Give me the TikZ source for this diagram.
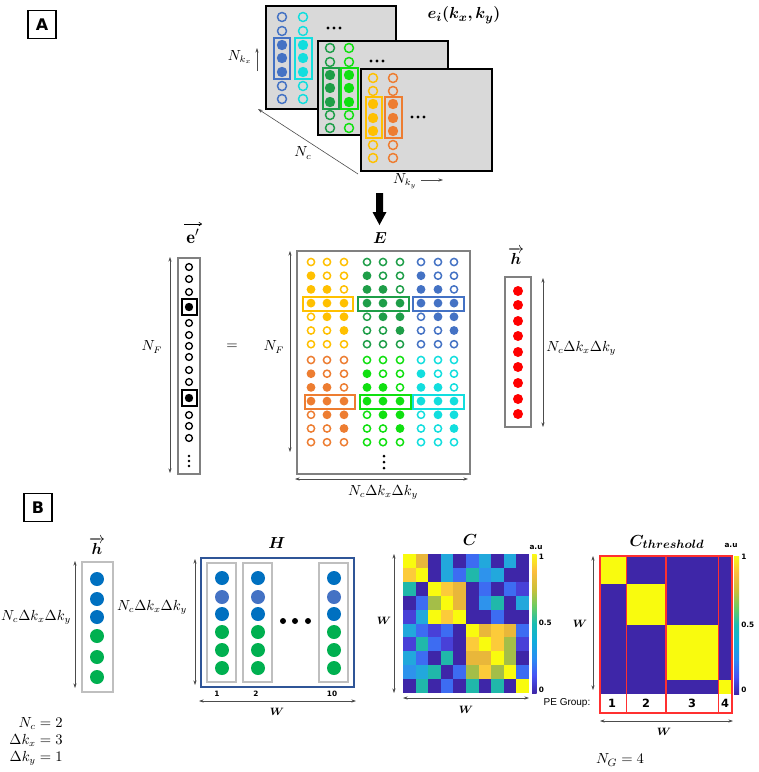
\documentclass[tikz,border=0pt]{standalone}
\usepackage{fontspec}
\usepackage{amsmath,bm}
\usetikzlibrary{arrows.meta}
\newfontfamily\dvs{DejaVu Sans}
\newfontfamily\lib{Liberation Sans}
\definecolor{cardgray}{HTML}{D9D9D9}
\definecolor{blueA}{HTML}{4472C4}
\definecolor{cyanA}{HTML}{12DEDE}
\definecolor{dgreen}{HTML}{1E9E48}
\definecolor{bgreen}{HTML}{10E010}
\definecolor{goldA}{HTML}{FFC000}
\definecolor{orangeA}{HTML}{ED7D31}
\definecolor{redA}{HTML}{FF0000}
\definecolor{Bblue}{HTML}{0070C0}
\definecolor{Blblue}{HTML}{4472C4}
\definecolor{Bgreen}{HTML}{00B050}
\definecolor{Hblue}{HTML}{2F5597}
\definecolor{boxgray}{HTML}{808080}
\definecolor{lboxgray}{HTML}{BFBFBF}
\definecolor{cD}{HTML}{3E26A8}
\definecolor{cM}{HTML}{4840D8}
\definecolor{cB}{HTML}{3D6CF2}
\definecolor{cK}{HTML}{2E93EC}
\definecolor{cL}{HTML}{22A8DC}
\definecolor{cT}{HTML}{20B8AA}
\definecolor{cG}{HTML}{A4BE48}
\definecolor{cO}{HTML}{E9B73A}
\definecolor{cP}{HTML}{FCCB3A}
\definecolor{cY}{HTML}{F9FB0E}
\definecolor{redbox}{HTML}{FF3030}
\pgfdeclareverticalshading{parula}{100bp}{%
 rgb(0bp)=(0.2422,0.1504,0.6603);
 rgb(25bp)=(0.2422,0.1504,0.6603);
 rgb(31.25bp)=(0.2810,0.3228,0.9579);
 rgb(37.5bp)=(0.16,0.55,0.95);
 rgb(43.75bp)=(0.06,0.68,0.86);
 rgb(50bp)=(0.10,0.74,0.70);
 rgb(56.25bp)=(0.42,0.80,0.38);
 rgb(62.5bp)=(0.80,0.75,0.22);
 rgb(68.75bp)=(0.99,0.74,0.24);
 rgb(75bp)=(0.9769,0.9839,0.0805);
 rgb(100bp)=(0.9769,0.9839,0.0805)}
\newcommand\fsz{\fontsize{10.5}{12}\selectfont}
\newcommand\fbig{\fontsize{12.5}{14}\selectfont}
\newcommand\ftiny{\dvs\bfseries\fontsize{5.5}{6}\selectfont}
\newcommand\Eblock[5]{%
 \foreach \mm [count=\rr from 0] in {{0,0,0},{1,0,0},{1,1,0},{1,1,1},{0,1,1},{0,0,1},{0,0,0}}{%
   \foreach \ff [count=\kk] in \mm {%
     \pgfmathsetmacro\xx{\kk==1 ? #2 : (\kk==2 ? #3 : #4)}%
     \pgfmathsetmacro\yy{#5+13.7*\rr}%
     \ifnum\ff=1 \fill[#1] (\xx,\yy) circle[radius=4.4];%
     \else \draw[#1,line width=1.1pt] (\xx,\yy) circle[radius=3.6];\fi
   }}}
\begin{document}
\begin{tikzpicture}[x=0.75pt,y=-0.75pt,
  card/.style={fill=cardgray,draw=black,line width=1.5pt},
  oc/.style={line width=1.1pt},
  grpbox/.style={line width=1.1pt},
  dimarr/.style={{Stealth[length=3.5pt,width=2.4pt]}-{Stealth[length=3.5pt,width=2.4pt]},line width=0.45pt,draw=black!70},
  onearr/.style={-{Stealth[length=3.5pt,width=2.4pt]},line width=0.45pt,draw=black!70},
  vecarr/.style={-{To[length=2.5pt,width=3pt]},line width=0.5pt},
  lbl/.style={font=\fsz,inner sep=0pt},
  ttl/.style={font=\fbig,inner sep=0pt},
  tiny/.style={font=\ftiny,inner sep=0pt},
  panel/.style={draw=black,line width=0.8pt,minimum width=21pt,minimum height=21.5pt,inner sep=0pt,font=\dvs\bfseries\fontsize{12}{12}\selectfont}]
\useasboundingbox (0,0) rectangle (759,772);
\fill[white] (0,0) rectangle (759,772);

% ---------------- Panel A ----------------
\node[panel] (labA) at (42,24.5) {A};

% card 1
\draw[card] (266,6) rectangle (396,109);
\foreach \y in {17,31,86,99}{\draw[oc,blueA] (282,\y) circle[radius=4.5]; \draw[oc,cyanA] (303,\y) circle[radius=4.5];}
\foreach \y in {45,58,72}{\fill[blueA] (282,\y) circle[radius=5.2]; \fill[cyanA] (303,\y) circle[radius=5.2];}
\draw[grpbox,blueA] (274,38) rectangle (290,79);
\draw[grpbox,cyanA] (295,38) rectangle (312,79);
\foreach \d in {-6,0,6}{\fill (334+\d,28) circle[radius=1.6];}
% card 2
\draw[card] (318,41) rectangle (448,135);
\foreach \y in {48,62,115,128}{\draw[oc,dgreen] (330,\y) circle[radius=4.5]; \draw[oc,bgreen] (349,\y) circle[radius=4.5];}
\foreach \y in {75,88,102}{\fill[dgreen] (330,\y) circle[radius=5.2]; \fill[bgreen] (349,\y) circle[radius=5.2];}
\draw[grpbox,dgreen] (323,68) rectangle (339,109);
\draw[grpbox,bgreen] (341,68) rectangle (358,109);
\foreach \d in {-6,0,6}{\fill (377+\d,61) circle[radius=1.6];}
% card 3
\draw[card] (361,69) rectangle (492,171);
\foreach \y in {78,91,145,158}{\draw[oc,goldA] (373,\y) circle[radius=4.5]; \draw[oc,orangeA] (393,\y) circle[radius=4.5];}
\foreach \y in {104,118,131}{\fill[goldA] (373,\y) circle[radius=5.2]; \fill[orangeA] (393,\y) circle[radius=5.2];}
\draw[grpbox,goldA] (366,97) rectangle (382,138);
\draw[grpbox,orangeA] (385,97) rectangle (402,138);
\foreach \d in {-6,0,6}{\fill (418+\d,117) circle[radius=1.6];}

\node[ttl] (eik) at (464,15) {$\bm{e_i(k_x,k_y)}$};
\node[lbl] (nkx) at (240,57) {$N_{k_x}$};
\coordinate (nkxA) at (257,71); \coordinate (nkxB) at (257,48);
\draw[onearr] (nkxA) -- (nkxB);
\coordinate (ncA) at (358,174); \coordinate (ncB) at (258,109);
\draw[onearr] (ncA) -- (ncB);
\node[lbl] (nc) at (303,153) {$N_c$};
\node[lbl] (nky) at (405,181) {$N_{k_y}$};
\coordinate (nkyA) at (421,180); \coordinate (nkyB) at (443,180);
\draw[onearr] (nkyA) -- (nkyB);

% big arrow
\fill[black] (376,193) -- (383,193) -- (383,212) -- (386.5,212) -- (379.5,225) -- (372.5,212) -- (376,212) -- cycle;

% E matrix
\node[ttl] (Elbl) at (380,238) {$\bm{E}$};
\draw[boxgray,line width=1.5pt] (297,251) rectangle (470,474);
\Eblock{goldA}{311}{327}{344}{262}
\Eblock{dgreen}{367}{383}{400}{262}
\Eblock{blueA}{421}{438}{454}{262}
\Eblock{orangeA}{311}{327}{344}{360}
\Eblock{bgreen}{367}{383}{400}{360}
\Eblock{cyanA}{421}{438}{454}{360}
\draw[grpbox,goldA] (303,297) rectangle (353,311);
\draw[grpbox,dgreen] (358,297) rectangle (409,311);
\draw[grpbox,blueA] (413,297) rectangle (464,311);
\draw[grpbox,orangeA] (305,395) rectangle (355,409);
\draw[grpbox,bgreen] (360,395) rectangle (411,409);
\draw[grpbox,cyanA] (413,395) rectangle (464,409);
\foreach \y in {456,462,468}{\fill (384,\y) circle[radius=1.5];}
\coordinate (eLa) at (290,251); \coordinate (eLb) at (290,452);
\draw[dimarr] (eLa) -- (eLb);
\node[lbl] (nfE) at (274,347) {$N_F$};
\coordinate (eBa) at (295,479); \coordinate (eBb) at (468,479);
\draw[dimarr] (eBa) -- (eBb);
\node[lbl] (ncE) at (383,492) {$N_c\Delta k_x\Delta k_y$};

% e' vector
\node[font=\fontsize{14}{16}\selectfont,inner sep=0pt] (eplbl) at (193,236) {$\mathbf{e}'$};
\coordinate (epva) at (184,224); \coordinate (epvb) at (202,224);
\draw[vecarr] (epva) -- (epvb);
\draw[boxgray,line width=1.5pt] (178,258) rectangle (200,474);
\foreach \y in {267,279,292,323,335,346,357,370,382,415,426,438}{\draw[black,line width=1pt] (189,\y) circle[radius=3.4];}
\foreach \y in {307,398}{\fill[black] (189,\y) circle[radius=4.2]; \draw[black,line width=1.1pt] (182,\y-8) rectangle (197,\y+8);}
\foreach \y in {456,461,466}{\fill (189,\y) circle[radius=1.3];}
\coordinate (epa) at (170,257); \coordinate (epb) at (170,473);
\draw[dimarr] (epa) -- (epb);
\node[lbl] (nfe) at (152,347) {$N_F$};
\node[lbl] (eq) at (232,347) {$=$};

% h vector (A)
\node[ttl] (hlblA) at (516,256) {$\overrightarrow{\bm{h}}$};
\draw[boxgray,line width=1.5pt] (505,277) rectangle (531,427);
\foreach \y in {291,305,321,336,352,367,383,399,414}{\fill[redA] (518,\y) circle[radius=5];}
\coordinate (ha) at (543,278); \coordinate (hb) at (543,427);
\draw[dimarr] (ha) -- (hb);
\node[lbl,anchor=west] (ncH) at (546,348) {$N_c\Delta k_x\Delta k_y$};

% ---------------- Panel B ----------------
\node[panel] (labB) at (38,507.5) {B};

% h vector (B)
\node[ttl] (hlblB) at (97,546) {$\overrightarrow{\bm{h}}$};
\draw[lboxgray,line width=1.3pt] (82,562) rectangle (113,692);
\foreach \y in {579,599,617}{\fill[Bblue] (97,\y) circle[radius=7];}
\foreach \y in {636,657,677}{\fill[Bgreen] (97,\y) circle[radius=7];}
\coordinate (hba) at (75,561); \coordinate (hbb) at (75,688);
\draw[dimarr] (hba) -- (hbb);
\node[lbl] (nchB) at (36,617) {$N_c\Delta k_x\Delta k_y$};

% H matrix
\node[font=\fontsize{11.5}{13}\selectfont,inner sep=0pt] (Hlbl) at (277,543) {$\bm{H}$};
\draw[Hblue,line width=0.9pt] (201,558) rectangle (354,687);
\foreach \x in {222,258,334}{
  \draw[lboxgray,line width=1.3pt] (\x-15,563) rectangle (\x+14,682);
  \fill[Bblue] (\x,578) circle[radius=7];
  \fill[Blblue] (\x,597) circle[radius=7];
  \fill[Bblue] (\x,614) circle[radius=7];
  \foreach \y in {632,650,668}{\fill[Bgreen] (\x,\y) circle[radius=7];}
}
\foreach \x in {283,295,308}{\fill (\x,621) circle[radius=3];}
\node[tiny] (n1) at (217,694) {1};
\node[tiny] (n2) at (256,694) {2};
\node[tiny] (n10) at (332,694) {10};
\coordinate (Hla) at (195,559); \coordinate (Hlb) at (195,685);
\draw[dimarr] (Hla) -- (Hlb);
\node[lbl] (nchH) at (152,607) {$N_c\Delta k_x\Delta k_y$};
\coordinate (Hba) at (199,701); \coordinate (Hbb) at (356,701);
\draw[dimarr] (Hba) -- (Hbb);
\node[font=\fontsize{8}{9}\selectfont,inner sep=0pt] (WH) at (277,712) {$\bm{W}$};

% C heatmap
\node[ttl] (Clbl) at (470,540) {$\bm{C}$};
\foreach \row [count=\i from 0] in {
 {Y,O,D,L,D,B,L,D,L,D},
 {P,Y,D,L,B,T,K,L,D,D},
 {T,D,Y,P,O,D,B,D,B,M},
 {D,B,G,Y,O,D,K,T,D,L},
 {M,L,Y,P,Y,D,D,B,D,D},
 {L,B,M,B,D,Y,O,P,O,B},
 {M,T,B,M,D,P,Y,P,G,M},
 {L,B,D,T,D,O,O,Y,G,D},
 {K,L,T,D,B,G,P,G,Y,B},
 {D,T,D,B,D,T,D,T,D,Y}}{
  \foreach \cc [count=\j from 0] in \row {
    \fill[fill=c\cc] (403+12.6*\j,554+13.9*\i) rectangle ++(12.8,14.1);
  }}
\shade[shading=parula] (532,554) rectangle (536.5,693);
\node[tiny] (auC) at (536,547) {a.u};
\node[tiny,anchor=west] (c1) at (538.5,557) {1};
\node[tiny,anchor=west] (c05) at (538.5,623) {0.5};
\node[tiny,anchor=west] (c0) at (538.5,690) {0};
\coordinate (Cla) at (394,554); \coordinate (Clb) at (394,693);
\draw[dimarr] (Cla) -- (Clb);
\node[font=\fontsize{8}{9}\selectfont,inner sep=0pt] (WCl) at (384,621) {$\bm{W}$};
\coordinate (Cba) at (403,698); \coordinate (Cbb) at (529,698);
\draw[dimarr] (Cba) -- (Cbb);
\node[font=\fontsize{8}{9}\selectfont,inner sep=0pt] (WCb) at (466,710) {$\bm{W}$};

% C threshold
\node[ttl] (Ctlbl) at (667,542) {$\bm{C_{threshold}}$};
\fill[cD] (600,556) rectangle (732,694);
\fill[cY] (600,556) rectangle (626.4,583.6);
\fill[cY] (626.4,583.6) rectangle (666,625);
\fill[cY] (666,625) rectangle (718.8,680.2);
\fill[cY] (718.8,680.2) rectangle (732,694);
\draw[redbox,line width=0.9pt] (600,556) rectangle (626.4,713);
\draw[redbox,line width=0.9pt] (626.4,556) rectangle (666,713);
\draw[redbox,line width=0.9pt] (666,556) rectangle (718.8,713);
\draw[redbox,line width=0.9pt] (718.8,556) rectangle (732,713);
\node[font=\dvs\bfseries\fontsize{8.5}{9}\selectfont,inner sep=0pt] (g1) at (612,703) {1};
\node[font=\dvs\bfseries\fontsize{8.5}{9}\selectfont,inner sep=0pt] (g2) at (646,703) {2};
\node[font=\dvs\bfseries\fontsize{8.5}{9}\selectfont,inner sep=0pt] (g3) at (692,703) {3};
\node[font=\dvs\bfseries\fontsize{8.5}{9}\selectfont,inner sep=0pt] (g4) at (725,703) {4};
\node[font=\lib\fontsize{7.5}{8}\selectfont,inner sep=0pt] (peg) at (567,703) {PE Group:};
\shade[shading=parula] (734,556) rectangle (739,694);
\node[tiny] (auT) at (731,545) {a.u};
\node[tiny,anchor=west] (t1) at (741,557) {1};
\node[tiny,anchor=west] (t05) at (741,625) {0.5};
\node[tiny,anchor=west] (t0) at (741,690) {0};
\coordinate (Tla) at (593,556); \coordinate (Tlb) at (593,690);
\draw[dimarr] (Tla) -- (Tlb);
\node[font=\fontsize{8}{9}\selectfont,inner sep=0pt] (WTl) at (580,624) {$\bm{W}$};
\coordinate (Tba) at (600,721); \coordinate (Tbb) at (733,721);
\draw[dimarr] (Tba) -- (Tbb);
\node[font=\fontsize{8}{9}\selectfont,inner sep=0pt] (WTb) at (664,732) {$\bm{W}$};
\node[font=\fontsize{11}{12}\selectfont,inner sep=0pt] (NG) at (620,760) {$N_G = 4$};

% constants
\node[lbl] (consts) at (36,741) {$\renewcommand{\arraystretch}{1.05}\begin{array}{@{}r@{\;}l@{}} N_c & = 2\\ \Delta k_x & = 3\\ \Delta k_y & = 1\end{array}$};
\end{tikzpicture}
\end{document}
